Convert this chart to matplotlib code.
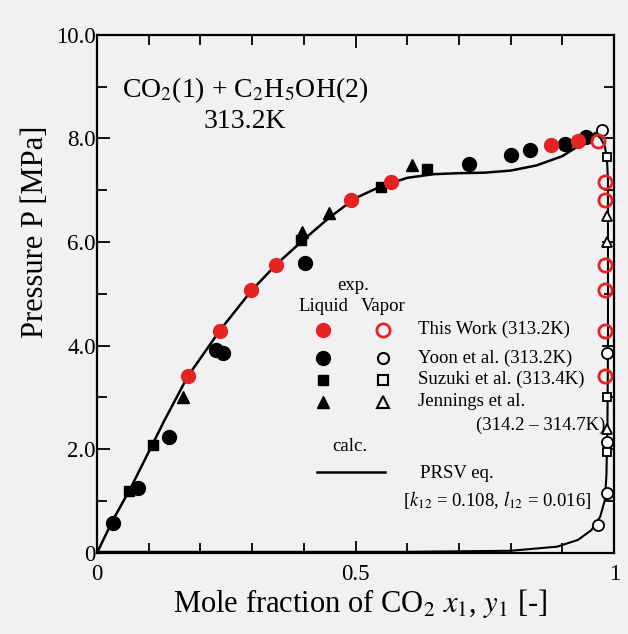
import matplotlib.pyplot as plt
import numpy as np

plt.rcParams["font.family"] = ["Liberation Serif", "DejaVu Serif"]
plt.rcParams["mathtext.fontset"] = "stix"

# experimental data, liquid (x1) and vapor (y1), P in MPa
work_x = [0.175, 0.238, 0.298, 0.346, 0.492, 0.568, 0.877, 0.930]
work_px = [3.42, 4.29, 5.08, 5.56, 6.81, 7.16, 7.88, 7.95]
work_y = [0.969, 0.983, 0.983, 0.983, 0.983, 0.983, 0.983]
work_py = [7.95, 7.16, 6.81, 5.56, 5.08, 4.29, 3.42]

yoon_x = [0.031, 0.079, 0.139, 0.231, 0.243, 0.403, 0.719, 0.800, 0.838, 0.904, 0.946]
yoon_px = [0.58, 1.25, 2.24, 3.92, 3.86, 5.60, 7.51, 7.68, 7.78, 7.90, 8.03]
yoon_y = [0.977, 0.986, 0.986, 0.986, 0.969]
yoon_py = [8.17, 3.85, 2.14, 1.16, 0.54]

suzuki_x = [0.062, 0.108, 0.395, 0.549, 0.638]
suzuki_px = [1.20, 2.08, 6.04, 7.07, 7.41]
suzuki_y = [0.987, 0.986, 0.986]
suzuki_py = [7.65, 3.00, 1.95]

jennings_x = [0.166, 0.397, 0.449, 0.609]
jennings_px = [3.01, 6.20, 6.56, 7.49]
jennings_y = [0.987, 0.987, 0.987]
jennings_py = [6.50, 6.00, 2.40]

# PRSV calculation: bubble and dew curves
bub_x = [0.0, 0.03, 0.065, 0.10, 0.13, 0.175, 0.238, 0.30, 0.35, 0.40, 0.45, 0.50,
         0.55, 0.60, 0.65, 0.70, 0.75, 0.80, 0.85, 0.90, 0.93, 0.95, 0.963]
bub_p = [0.0, 0.62, 1.25, 1.95, 2.55, 3.40, 4.30, 5.08, 5.60, 6.05, 6.48, 6.85,
         7.08, 7.24, 7.31, 7.33, 7.34, 7.38, 7.48, 7.66, 7.85, 8.00, 8.10]
dew_x = [0.0, 0.3, 0.6, 0.8, 0.89, 0.93, 0.956, 0.973, 0.982, 0.985, 0.987, 0.988,
         0.988, 0.988, 0.986, 0.982, 0.974, 0.963]
dew_p = [0.02, 0.02, 0.02, 0.04, 0.12, 0.25, 0.44, 0.70, 1.02, 1.50, 2.50, 4.00,
         6.00, 7.20, 7.60, 7.85, 8.00, 8.10]

red = "#e52421"
bg = "#f2f0f2"
fs = 13.5

fig = plt.figure(figsize=(6.28, 6.34), dpi=100, facecolor=bg)
ax = fig.add_axes([0.1545, 0.128, 0.8235, 0.817], facecolor=bg)

ax.plot(bub_x, bub_p, "k-", lw=1.8, zorder=2)
ax.plot(dew_x, dew_p, "k-", lw=1.5, zorder=2)

ax.plot(work_x, work_px, "o", color=red, ms=10, zorder=4)
ax.plot(work_y, work_py, "o", mfc="none", mec=red, mew=2, ms=9.5, zorder=4)
ax.plot(yoon_x, yoon_px, "o", color="k", ms=10, zorder=3)
ax.plot(yoon_y, yoon_py, "o", mfc="white", mec="k", mew=1.3, ms=8, zorder=3)
ax.plot(suzuki_x, suzuki_px, "s", color="k", ms=7, zorder=3)
ax.plot(suzuki_y, suzuki_py, "s", mfc="white", mec="k", mew=1.3, ms=6, zorder=3)
ax.plot(jennings_x, jennings_px, "^", color="k", ms=8, zorder=3)
ax.plot(jennings_y, jennings_py, "^", mfc="white", mec="k", mew=1.3, ms=7, zorder=3)

# legend drawn by hand inside the plot
lx, vx = 0.437, 0.553
ax.text(0.495, 5.17, "exp.", ha="center", va="center", fontsize=fs)
ax.text(lx, 4.75, "Liquid", ha="center", va="center", fontsize=fs)
ax.text(vx, 4.75, "Vapor", ha="center", va="center", fontsize=fs)
rows = [4.31, 3.76, 3.34, 2.92]
ax.plot([lx], [rows[0]], "o", color=red, ms=10)
ax.plot([vx], [rows[0]], "o", mfc="none", mec=red, mew=2, ms=9.5)
ax.plot([lx], [rows[1]], "o", color="k", ms=10)
ax.plot([vx], [rows[1]], "o", mfc="none", mec="k", mew=1.5, ms=8)
ax.plot([lx], [rows[2]], "s", color="k", ms=7.5)
ax.plot([vx], [rows[2]], "s", mfc="none", mec="k", mew=1.5, ms=7.5)
ax.plot([lx], [rows[3]], "^", color="k", ms=8.5)
ax.plot([vx], [rows[3]], "^", mfc="none", mec="k", mew=1.5, ms=8.5)
labels = ["This Work (313.2K)", "Yoon et al. (313.2K)", "Suzuki et al. (313.4K)", "Jennings et al."]
for p, s in zip(rows, labels):
    ax.text(0.621, p, s, ha="left", va="center", fontsize=fs)
ax.text(0.983, 2.47, "(314.2 \u2013 314.7K)", ha="right", va="center", fontsize=fs)
ax.text(0.489, 2.05, "calc.", ha="center", va="center", fontsize=fs)
ax.plot([0.426, 0.557], [1.56, 1.56], "k-", lw=1.8)
ax.text(0.696, 1.54, "PRSV eq.", ha="center", va="center", fontsize=fs)
ax.text(0.774, 1.02, r"[$k_{12}$ = 0.108, $l_{12}$ = 0.016]", ha="center", va="center", fontsize=fs)

ax.text(0.286, 8.94, r"CO$_2$(1) + C$_2$H$_5$OH(2)", ha="center", va="center", fontsize=20)
ax.text(0.286, 8.32, "313.2K", ha="center", va="center", fontsize=20)

ax.set_xlim(0, 1)
ax.set_ylim(0, 10)
ax.set_xticks([0, 0.5, 1])
ax.set_xticklabels(["0", "0.5", "1"])
ax.set_xticks(np.arange(0, 1.01, 0.1), minor=True)
ax.set_yticks([0, 2, 4, 6, 8, 10])
ax.set_yticklabels(["0", "2.0", "4.0", "6.0", "8.0", "10.0"])
ax.set_yticks(np.arange(0, 10.1, 1), minor=True)
ax.tick_params(which="both", direction="in", top=True, right=True, width=1.3, labelsize=16.5)
ax.tick_params(which="major", length=9)
ax.tick_params(which="minor", length=7)
ax.tick_params(axis="x", pad=8)
ax.tick_params(axis="y", pad=1)
for sp in ax.spines.values():
    sp.set_linewidth(1.6)

ax.set_xlabel(r"Mole fraction of CO$_2$ $x_1$, $y_1$ [-]", fontsize=22)
ax.set_ylabel("Pressure P [MPa]", fontsize=22)
ax.xaxis.set_label_coords(0.509, -0.065)
ax.yaxis.set_label_coords(-0.09, 0.62)

fig.savefig("out.png", dpi=100, facecolor=bg)
